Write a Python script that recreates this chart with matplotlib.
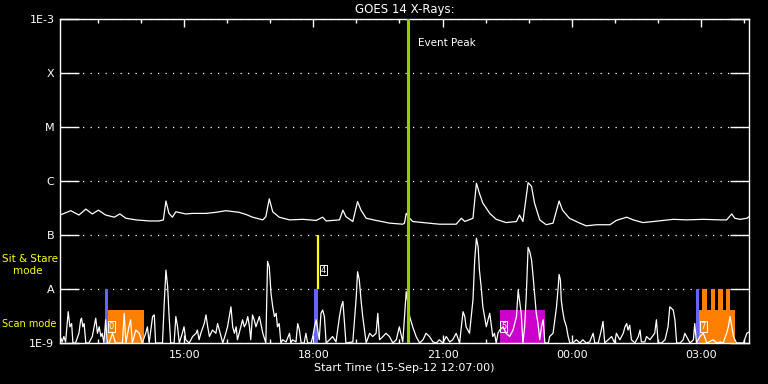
"""GOES 14 X-ray flux, 16 h window starting 15-Sep-12 12:07, with IRIS-style
observing-mode markers (scan / sit & stare) along the bottom."""
import matplotlib
matplotlib.use("Agg")
import matplotlib.pyplot as plt
import numpy as np

START_H = 12 + 7 / 60          # start time, hours of day
SPAN_H = 16.0

# long channel (1-8 A), hours since start / log10 flux
long_t = [0.00, 0.25, 0.44, 0.60, 0.75, 0.89, 1.06, 1.26, 1.39, 1.53, 1.76, 2.07,
          2.30, 2.40, 2.46, 2.53, 2.61, 2.69, 2.92, 3.08, 3.39, 3.62, 3.85, 4.16,
          4.32, 4.47, 4.71, 4.78, 4.86, 4.94, 5.09, 5.33, 5.64, 5.95, 6.10, 6.18,
          6.49, 6.57, 6.64, 6.80, 6.91, 6.99, 7.11, 7.34, 7.65, 7.96, 8.00, 8.04,
          8.12, 8.19, 8.43, 8.81, 9.20, 9.32, 9.40, 9.59, 9.67, 9.74, 9.82, 9.98,
          10.13, 10.36, 10.60, 10.67, 10.75, 10.87, 10.95, 11.02, 11.14, 11.29,
          11.45, 11.59, 11.67, 11.83, 12.07, 12.22, 12.46, 12.77, 12.92, 13.16,
          13.31, 13.54, 13.78, 14.01, 14.24, 14.55, 14.94, 15.33, 15.48, 15.60,
          15.67, 15.79, 15.95, 16.02]
long_log = [-6.63, -6.55, -6.63, -6.52, -6.61, -6.54, -6.63, -6.67, -6.61, -6.69,
            -6.72, -6.74, -6.74, -6.72, -6.37, -6.60, -6.67, -6.57, -6.61, -6.60,
            -6.60, -6.58, -6.55, -6.58, -6.62, -6.67, -6.72, -6.66, -6.33, -6.57,
            -6.67, -6.72, -6.71, -6.73, -6.67, -6.74, -6.72, -6.54, -6.66, -6.75,
            -6.38, -6.54, -6.69, -6.73, -6.78, -6.80, -6.78, -6.60, -6.69, -6.75,
            -6.77, -6.80, -6.80, -6.69, -6.75, -6.69, -6.04, -6.23, -6.41, -6.60,
            -6.71, -6.77, -6.75, -6.63, -6.75, -6.03, -6.10, -6.41, -6.72, -6.81,
            -6.78, -6.37, -6.54, -6.69, -6.78, -6.83, -6.81, -6.81, -6.73, -6.67,
            -6.72, -6.77, -6.75, -6.73, -6.71, -6.72, -6.71, -6.72, -6.72, -6.61,
            -6.69, -6.71, -6.69, -6.65]

# short channel (0.5-4 A)
short_t = [0.00, 0.02, 0.05, 0.09, 0.13, 0.19, 0.23, 0.27, 0.30, 0.36, 0.44, 0.48,
           0.50, 0.53, 0.56, 0.60, 0.67, 0.75, 0.83, 0.87, 0.91, 0.95, 0.98, 1.02,
           1.06, 1.10, 1.14, 1.22, 1.29, 1.45, 1.49, 1.53, 1.60, 1.64, 1.68, 1.76,
           1.84, 1.91, 1.99, 2.03, 2.07, 2.15, 2.19, 2.22, 2.38, 2.42, 2.46, 2.50,
           2.53, 2.57, 2.65, 2.69, 2.73, 2.77, 2.84, 2.88, 2.92, 3.00, 3.08, 3.16,
           3.19, 3.23, 3.27, 3.35, 3.39, 3.43, 3.47, 3.54, 3.62, 3.66, 3.70, 3.78,
           3.85, 3.89, 3.93, 3.97, 4.01, 4.05, 4.09, 4.12, 4.16, 4.24, 4.28, 4.32,
           4.36, 4.40, 4.43, 4.47, 4.51, 4.55, 4.63, 4.71, 4.78, 4.82, 4.86, 4.90,
           4.94, 4.98, 5.02, 5.05, 5.09, 5.13, 5.17, 5.25, 5.33,
           5.36, 5.40, 5.48, 5.52, 5.56, 5.60, 5.67, 5.71, 5.75, 5.83, 5.87, 5.91,
           5.95, 6.02, 6.06, 6.10, 6.14, 6.18, 6.26, 6.33, 6.41, 6.49, 6.53, 6.57,
           6.60, 6.64, 6.80, 6.88, 6.91, 6.95, 6.99, 7.03, 7.11, 7.19, 7.26, 7.34,
           7.38, 7.42, 7.50, 7.57, 7.65, 7.73, 7.81, 7.88, 7.96, 8.04, 8.08, 8.12,
           8.19, 8.27, 8.35, 8.43, 8.50, 8.58, 8.66, 8.74, 8.81, 8.89, 8.97, 9.05,
           9.12, 9.20, 9.28, 9.32, 9.36, 9.40, 9.43, 9.51, 9.59, 9.63, 9.67, 9.71,
           9.74, 9.78, 9.82, 9.86, 9.90, 9.94, 9.98, 10.02, 10.05, 10.09, 10.13,
           10.17, 10.21, 10.29, 10.36, 10.44, 10.52, 10.60, 10.64, 10.67,
           10.71, 10.75, 10.79, 10.83, 10.87, 10.91, 10.95, 10.98, 11.02, 11.06,
           11.10, 11.14, 11.18, 11.22, 11.26, 11.34, 11.37, 11.45, 11.53, 11.57,
           11.59, 11.62, 11.64, 11.67, 11.71, 11.76, 11.80, 11.84, 11.91, 11.99,
           12.07, 12.14, 12.22, 12.30, 12.38, 12.42, 12.50, 12.57, 12.61, 12.65,
           12.73, 12.81, 12.88, 12.92, 13.00, 13.08, 13.12, 13.16, 13.19, 13.23,
           13.27, 13.35, 13.43, 13.47, 13.50, 13.58, 13.62, 13.70, 13.81, 13.85,
           13.89, 13.97, 14.05, 14.12, 14.16, 14.20, 14.24, 14.28, 14.32, 14.40,
           14.47, 14.51, 14.55, 14.63, 14.71, 14.74, 14.78, 14.86, 14.94, 15.02,
           15.17, 15.25, 15.33, 15.40, 15.48, 15.52, 15.56, 15.60, 15.64, 15.71,
           15.87, 15.95, 16.02]
short_log = [-8.98, -8.91, -8.98, -8.88, -8.98, -8.42, -8.70, -8.64, -9.00, -9.00,
             -8.82, -8.57, -8.54, -8.70, -8.64, -9.00, -9.00, -8.88, -8.54, -8.82,
             -8.70, -8.88, -8.82, -9.00, -8.57, -9.00, -9.00, -8.82, -9.00, -9.00,
             -8.45, -9.00, -8.70, -8.57, -9.00, -8.76, -8.82, -9.00, -8.82, -8.70,
             -9.00, -8.51, -8.48, -9.00, -9.00, -8.27, -7.65, -7.96, -8.45, -9.00,
             -9.00, -8.51, -8.70, -9.00, -8.82, -8.70, -8.94, -9.00, -8.88, -8.82,
             -8.76, -8.94, -8.82, -8.64, -8.48, -8.70, -8.88, -8.76, -8.82, -8.64,
             -8.76, -9.00, -8.82, -8.70, -8.51, -8.33, -8.70, -8.82, -8.70, -8.94,
             -8.82, -8.57, -8.70, -8.64, -8.51, -8.70, -8.94, -8.48, -8.57, -8.70,
             -8.51, -8.82, -9.00, -7.49, -7.59, -8.08, -8.33, -8.51, -8.45, -8.70,
             -8.64, -9.00, -8.94, -8.98, -8.82,
             -9.00, -8.94, -8.98, -8.64, -8.76, -9.00, -9.00, -8.82, -9.00, -9.00,
             -8.88, -8.70, -8.57, -8.94, -8.45, -8.39, -8.51, -9.00, -8.94, -8.88,
             -8.98, -8.51, -8.33, -8.23, -8.57, -9.00, -8.98, -8.14, -7.68, -7.83,
             -8.20, -8.51, -9.00, -8.82, -8.88, -8.82, -8.45, -8.94, -8.88, -8.82,
             -8.88, -9.00, -8.94, -8.70, -8.98, -8.05, -8.27, -8.51, -8.70, -8.88,
             -9.00, -8.94, -8.82, -8.88, -8.98, -9.00, -8.94, -9.00, -8.88, -8.98,
             -8.94, -8.82, -9.00, -8.70, -8.42, -8.51, -8.70, -8.82, -8.20, -7.46,
             -7.06, -7.22, -7.65, -7.96, -8.33, -8.51, -8.70, -8.57, -8.45, -8.70,
             -8.88, -8.82, -9.00, -8.82, -8.76, -8.70, -8.82, -8.88, -8.76, -8.51,
             -8.02, -8.20,
             -8.45, -9.00, -8.70, -8.08, -7.23, -7.31, -7.46, -7.71, -8.08, -8.45,
             -8.64, -8.94, -8.70, -8.57, -9.00, -9.00, -8.88, -8.82, -8.33, -7.96,
             -7.73, -7.83, -8.20, -8.39, -8.57, -8.70, -8.88, -9.00, -9.00, -8.94,
             -9.00, -8.94, -9.00, -8.98, -8.82, -9.00, -9.00, -8.76, -8.60, -9.00,
             -8.94, -8.88, -9.00, -8.82, -8.94, -8.82, -8.70, -8.64, -8.76, -8.67,
             -8.94, -9.00, -8.88, -8.76, -8.98, -8.98, -8.88, -8.94, -8.82, -8.57,
             -9.00, -9.00, -8.94, -8.70, -8.33, -8.36, -8.39, -8.57, -9.00, -9.00,
             -8.94, -8.82, -8.88, -9.00, -8.94, -8.64, -9.00, -8.88, -8.82, -9.00,
             -8.94, -9.00, -8.98, -9.00, -8.82, -8.70, -8.51, -8.70, -8.88, -9.00,
             -9.00, -8.82, -8.79]

# observing modes (hours since start)
scan_spans = [(1.10, 1.95), (14.84, 15.67)]
scan_colors = ["#ff8000", "#ff8000"]
scan_ids = ["0", "7"]
raster_span = (10.21, 11.26)          # magenta block
raster_id = "5"
blue_marks = [(1.05, 1.12), (5.91, 6.00), (14.78, 14.84)]
sit_stare_t = 6.00
sit_stare_id = "4"
burst_spans = [(14.92, 15.03), (15.11, 15.21), (15.28, 15.39), (15.46, 15.57)]
event_peak_t = 8.07

ylevels = [1e-9, 1e-8, 1e-7, 1e-6, 1e-5, 1e-4, 1e-3]
ylabels = ["1E-9", "A", "B", "C", "M", "X", "1E-3"]
xlabels = ["15:00", "18:00", "21:00", "00:00", "03:00"]
xlabel_hours = [15, 18, 21, 24, 27]

FLOOR = 1e-9
SCAN_TOP = 10 ** -8.39
BLUE = "#6464ff"

fig = plt.figure(figsize=(7.68, 3.84), dpi=100, facecolor="black")
ax = fig.add_axes([60 / 768, 41 / 384, 689 / 768, 324 / 384])
ax.set_facecolor("black")
ax.set_yscale("log")
ax.set_ylim(1e-9, 1e-3)
ax.set_xlim(0, SPAN_H)

# mode blocks
for (a, b), c in zip(scan_spans, scan_colors):
    ax.fill_between([a, b], FLOOR, SCAN_TOP, color=c, lw=0, zorder=2)
for a, b in burst_spans:
    ax.fill_between([a, b], FLOOR, 1e-8, color="#ff8000", lw=0, zorder=2)
ax.fill_between(list(raster_span), FLOOR, SCAN_TOP, color="#cc00cc", lw=0, zorder=2)
for a, b in blue_marks:
    ax.fill_between([a, b], FLOOR, 1e-8, color=BLUE, lw=0, zorder=2)
ax.vlines(sit_stare_t, 1e-8, 1e-7, color="yellow", lw=1.6, zorder=2)

# flux curves
ax.plot(long_t, 10 ** np.array(long_log), color="white", lw=0.9, zorder=3)
ax.plot(short_t, 10 ** np.array(short_log), color="white", lw=0.9, zorder=3)

ax.axvline(event_peak_t, color="#99cc00", lw=2.2, zorder=4)
ax.text(event_peak_t + 0.25, 10 ** -3.45, "Event Peak", color="white",
        fontsize=7.5, va="center", ha="left")

# little id boxes
box = dict(boxstyle="square,pad=0.1", fc="none", ec="white", lw=0.7)
for (a, b), s in zip(scan_spans, scan_ids):
    ax.text(a + 0.03, 10 ** -8.7, s, color="white", fontsize=6, ha="left",
            va="center", bbox=box, zorder=5)
ax.text(raster_span[0] + 0.03, 10 ** -8.7, raster_id, color="white", fontsize=6,
        ha="left", va="center", bbox=box, zorder=5)
ax.text(sit_stare_t + 0.05, 10 ** -7.65, sit_stare_id, color="white", fontsize=6,
        ha="left", va="center", bbox=box, zorder=5)

# axes styling
for sp in ax.spines.values():
    sp.set_color("white")
    sp.set_linewidth(1.0)
ax.set_yticks(ylevels)
ax.set_yticklabels(ylabels)
ax.yaxis.set_minor_locator(matplotlib.ticker.NullLocator())
ax.set_xticks([h - START_H for h in xlabel_hours])
ax.set_xticklabels(xlabels)
ax.set_xticks([h - START_H for h in range(13, 29)], minor=True)
ax.tick_params(axis="y", which="major", direction="in", length=14, width=1,
               left=True, right=True, colors="white", labelsize=8, pad=4)
ax.tick_params(axis="x", which="major", direction="in", length=6, width=1,
               top=True, bottom=True, colors="white", labelsize=8, pad=5)
ax.tick_params(axis="x", which="minor", direction="in", length=3, width=1,
               top=True, bottom=True, colors="white")
ax.grid(axis="y", which="major", color="white", lw=0.9, linestyle=(0, (1, 5)))

ax.set_xlabel("Start Time (15-Sep-12 12:07:00)", color="white", fontsize=8,
              labelpad=2)
ax.set_title("GOES 14 X-Rays:", color="white", fontsize=8.5, pad=4)

# mode labels in the left margin
fig.text(2 / 768, 1 - 259 / 384, "Sit & Stare", color="yellow", fontsize=7.5,
         ha="left", va="center")
fig.text(13 / 768, 1 - 271 / 384, "mode", color="yellow", fontsize=7.5,
         ha="left", va="center")
fig.text(2 / 768, 1 - 324 / 384, "Scan mode", color="yellow", fontsize=7,
         ha="left", va="center")

fig.savefig("out.png", dpi=100, facecolor="black")
